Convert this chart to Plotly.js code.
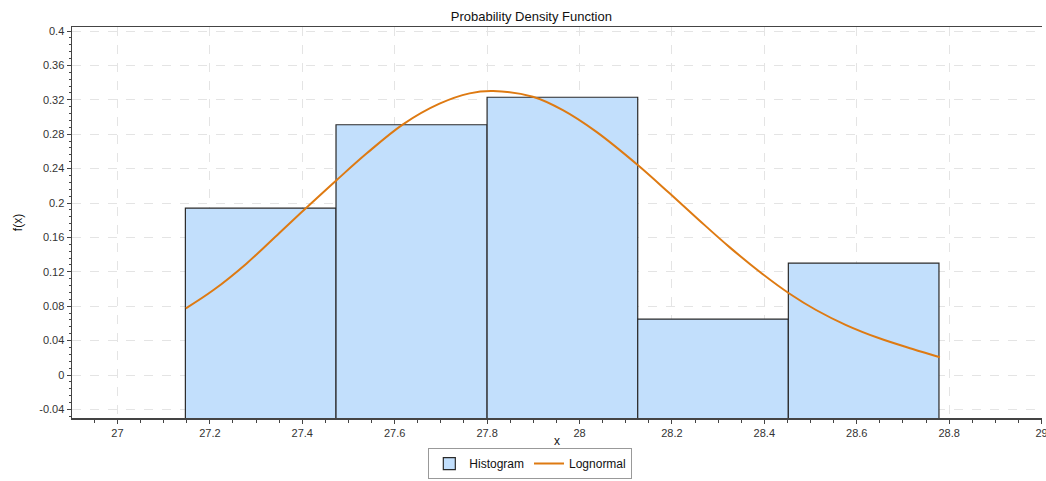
<!DOCTYPE html>
<html>
<head>
<meta charset="utf-8">
<script src="https://cdn.plot.ly/plotly-3.0.1.min.js"></script>
<style>html,body{margin:0;padding:0;background:#fff;}#chart{width:1046px;height:481px;}</style>
</head>
<body>
<div id="chart"></div>
<script>
// Histogram bin edges and densities
const binEdges = [27.147, 27.473, 27.800, 28.126, 28.452, 28.778];
const density = [0.194, 0.291, 0.323, 0.065, 0.130];

// Lognormal fitted curve points
const curveX = [27.148, 27.207, 27.279, 27.351, 27.413, 27.474, 27.539, 27.618, 27.697, 27.762, 27.813,
                27.899, 27.964, 28.036, 28.126, 28.195, 28.259, 28.324, 28.396, 28.454, 28.512, 28.577, 28.649,
                28.721, 28.780];
const curveY = [0.0775, 0.0985, 0.1295, 0.1655, 0.1965, 0.2265, 0.2575, 0.2915, 0.3155, 0.3275, 0.3302,
                0.3236, 0.308, 0.283, 0.2442, 0.2113, 0.180, 0.149, 0.1175, 0.0948, 0.0756, 0.0581, 0.0427,
                0.0302, 0.0206];

const xTicks = [27, 27.2, 27.4, 27.6, 27.8, 28, 28.2, 28.4, 28.6, 28.8, 29];
const yTicks = [-0.04, 0, 0.04, 0.08, 0.12, 0.16, 0.2, 0.24, 0.28, 0.32, 0.36, 0.4];

const BASE = -1;
const centers = density.map((d, i) => (binEdges[i] + binEdges[i + 1]) / 2);
const widths = density.map((d, i) => binEdges[i + 1] - binEdges[i]);

const traces = [
  {
    type: 'bar', name: 'Histogram',
    x: centers, y: density.map(d => d - BASE), base: BASE, width: widths,
    marker: {color: '#C2DFFC', line: {color: '#2a2a2a', width: 1.2}},
    hoverinfo: 'skip'
  },
  {
    type: 'scatter', mode: 'lines', name: 'Lognormal',
    x: curveX, y: curveY,
    line: {color: '#DE7A12', width: 2, shape: 'spline', smoothing: 1}
  }
];

const axisFont = {family: 'Liberation Sans, Arial, sans-serif', size: 11, color: '#333'};

const layout = {
  width: 1046, height: 481,
  margin: {l: 72, r: 4, t: 27, b: 63, autoexpand: false},
  paper_bgcolor: '#fff', plot_bgcolor: '#fff',
  font: {family: 'Liberation Sans, Arial, sans-serif', color: '#222'},
  title: {text: 'Probability Density Function', x: 0.508, xref: 'container', y: 0.965, yref: 'container', yanchor: 'middle',
          font: {size: 13, color: '#111'}},
  showlegend: true,
  legend: {orientation: 'h', x: 0.507, xref: 'container', xanchor: 'center',
           y: 0.004, yref: 'container', yanchor: 'bottom',
           bordercolor: '#999', borderwidth: 1, font: {size: 12, color: '#111'},
           itemwidth: 30, tracegroupgap: 0},
  bargap: 0,
  xaxis: {
    range: [26.9016, 29.001], tickvals: xTicks, ticktext: xTicks.map(String),
    showgrid: true, gridcolor: '#e4e4e4', griddash: 'dash', gridwidth: 1,
    zeroline: false, showline: true, linecolor: '#444', linewidth: 1.5, mirror: true,
    ticks: 'outside', ticklen: 4, tickcolor: '#444', ticklabeloverflow: 'allow',
    minor: {dtick: 0.05, tick0: 27, ticks: 'outside', ticklen: 3, tickcolor: '#444', showgrid: false},
    tickfont: axisFont, automargin: false,
    title: {text: 'x', font: {size: 12, color: '#111'}, standoff: 0}
  },
  yaxis: {
    range: [-0.05, 0.4047], tickvals: yTicks, ticktext: yTicks.map(String),
    showgrid: true, gridcolor: '#e4e4e4', griddash: 'dash', gridwidth: 1,
    zeroline: false, showline: true, linecolor: '#444', linewidth: 1.5,
    ticks: 'outside', ticklen: 4, tickcolor: '#444',
    minor: {dtick: 0.008, tick0: 0, ticks: 'outside', ticklen: 2, tickcolor: '#444', showgrid: false},
    tickfont: axisFont, automargin: false,
    title: {text: 'f(x)', font: {size: 12, color: '#111'}, standoff: 14}
  }
};

Plotly.newPlot('chart', traces, layout, {displayModeBar: false, staticPlot: true});
</script>
</body>
</html>
